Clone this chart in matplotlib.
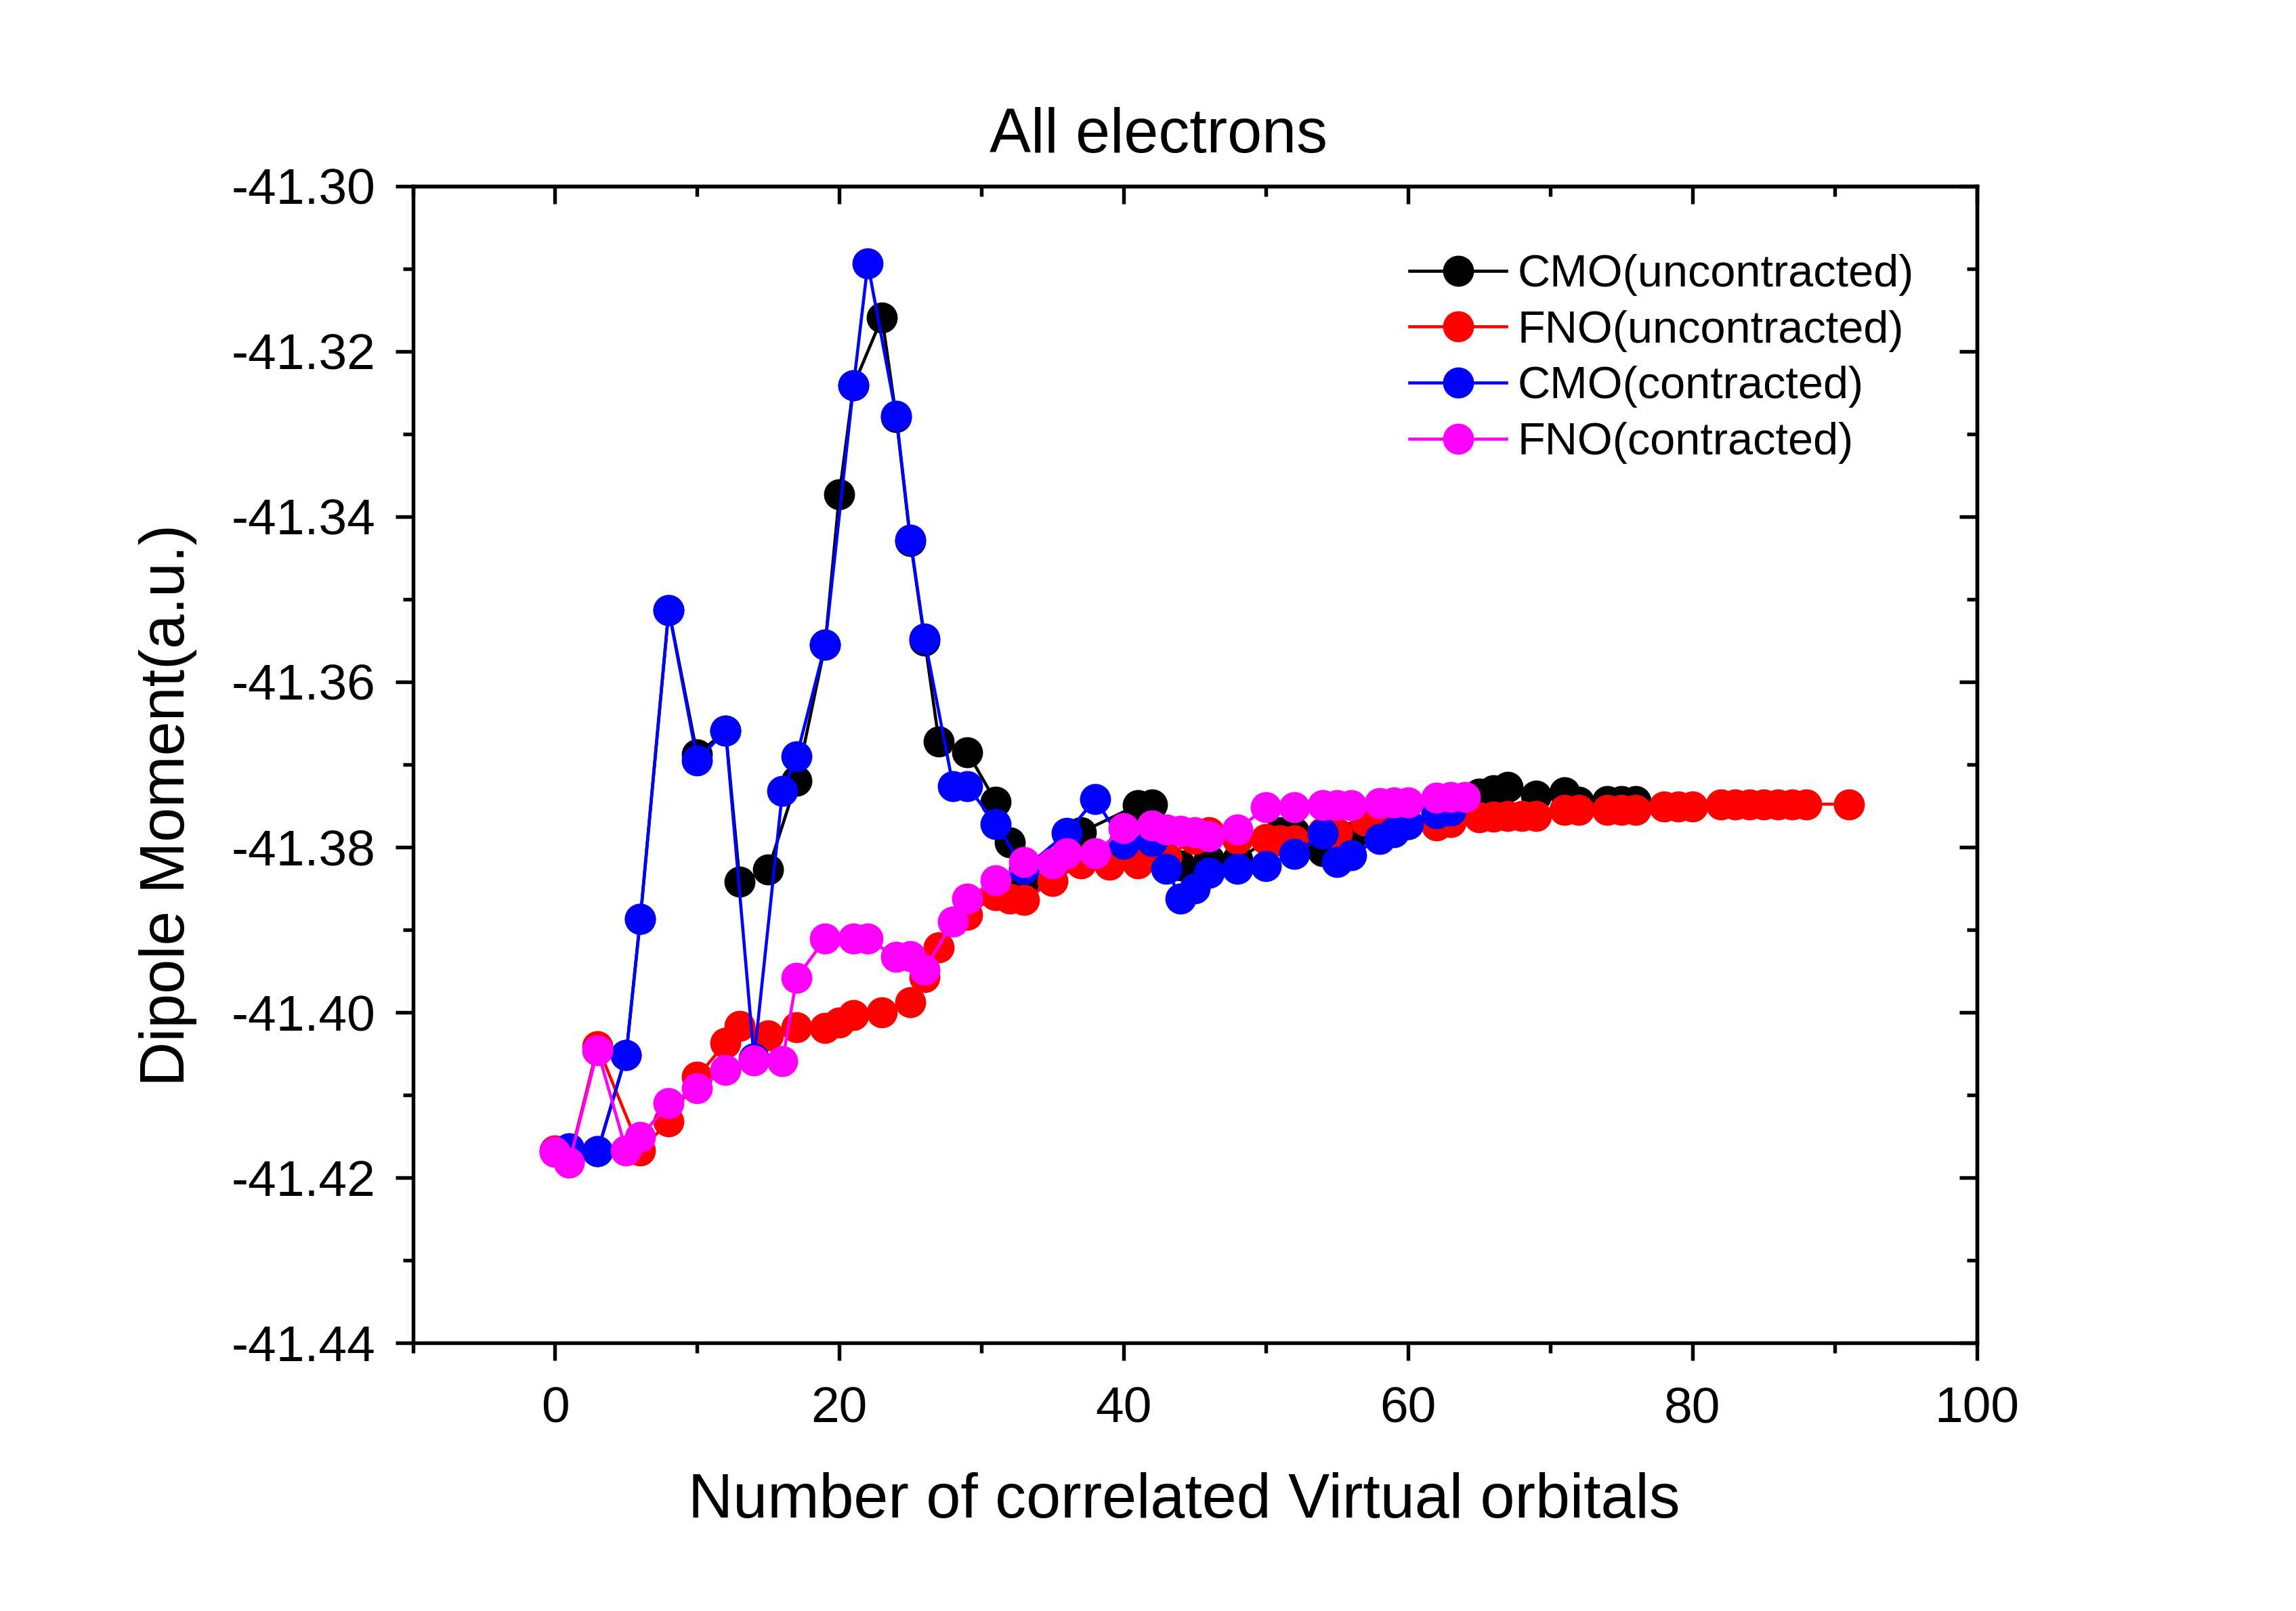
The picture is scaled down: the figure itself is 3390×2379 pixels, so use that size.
import matplotlib.pyplot as plt
from matplotlib.ticker import MultipleLocator, FormatStrFormatter

plt.rcParams['font.family'] = ['Liberation Sans', 'DejaVu Sans']

# CMO(uncontracted)
x_cmo_u = [1, 3, 5, 6, 8, 10, 12, 13, 15, 17, 19, 20, 21, 23, 24, 25, 26, 27, 29, 31,
           32, 33, 37, 41, 42, 44, 46, 48, 51, 52, 54, 56, 58, 60, 62, 63, 65, 66, 67,
           69, 71, 72, 74, 75, 76]
y_cmo_u = [-41.4165, -41.4168, -41.4052, -41.3887, -41.3513, -41.3688, -41.3659, -41.3842,
           -41.3827, -41.3720, -41.3555, -41.3373, -41.3241, -41.3159, -41.3280, -41.3430,
           -41.3550, -41.3672, -41.3685, -41.3745, -41.3794, -41.3842, -41.3782, -41.3749,
           -41.3748, -41.3822, -41.3815, -41.3815, -41.3782, -41.3782, -41.3805, -41.3788,
           -41.3780, -41.3772, -41.3760, -41.3755, -41.3735, -41.3731, -41.3727, -41.3738,
           -41.3734, -41.3745, -41.3744, -41.3744, -41.3744]

# FNO(uncontracted)
x_fno_u = [0, 1, 3, 6, 8, 10, 12, 13, 15, 17, 19, 20, 21, 23, 25, 26, 27, 29, 31, 32, 33,
           35, 37, 39, 41, 43, 45, 46, 48, 50, 51, 52, 54, 55, 57, 59, 62, 63, 65, 66, 67,
           68, 69, 71, 72, 74, 75, 76, 78, 79, 80, 82, 83, 84, 85, 86, 87, 88, 91]
y_fno_u = [-41.4167, -41.4180, -41.4041, -41.4167, -41.4132, -41.4078, -41.4037, -41.4016,
           -41.4028, -41.4018, -41.4019, -41.4012, -41.4003, -41.4000, -41.3988, -41.3957,
           -41.3921, -41.3882, -41.3858, -41.3862, -41.3864, -41.3841, -41.3820, -41.3821,
           -41.3820, -41.3812, -41.3790, -41.3782, -41.3790, -41.3790, -41.3792, -41.3792,
           -41.3782, -41.3783, -41.3768, -41.3770, -41.3774, -41.3770, -41.3764, -41.3763,
           -41.3762, -41.3762, -41.3762, -41.3755, -41.3755, -41.3755, -41.3755, -41.3755,
           -41.3751, -41.3751, -41.3751, -41.3748, -41.3748, -41.3748, -41.3748, -41.3748,
           -41.3748, -41.3748, -41.3748]

# CMO(contracted)
x_cmo_c = [1, 3, 5, 6, 8, 10, 12, 14, 16, 17, 19, 21, 22, 24, 25, 26, 28, 29, 31, 33, 36,
           38, 40, 42, 43, 44, 45, 46, 48, 50, 52, 54, 55, 56, 58, 59, 60, 62, 63]
y_cmo_c = [-41.4165, -41.4168, -41.4052, -41.3887, -41.3513, -41.3695, -41.3659, -41.4056,
           -41.3732, -41.3690, -41.3555, -41.3241, -41.3094, -41.3278, -41.3428, -41.3548,
           -41.3726, -41.3726, -41.3772, -41.3826, -41.3783, -41.3742, -41.3796, -41.3793,
           -41.3826, -41.3862, -41.3850, -41.3831, -41.3826, -41.3823, -41.3808, -41.3784,
           -41.3818, -41.3810, -41.3790, -41.3782, -41.3772, -41.3759, -41.3756]

# FNO(contracted)
x_fno_c = [0, 1, 3, 5, 6, 8, 10, 12, 14, 16, 17, 19, 21, 22, 24, 25, 26, 28, 29, 31, 33,
           35, 36, 38, 40, 42, 43, 44, 45, 46, 48, 50, 52, 54, 55, 56, 58, 59, 60, 62, 63, 64]
y_fno_c = [-41.4169, -41.4182, -41.4046, -41.4167, -41.4151, -41.4110, -41.4092, -41.4070,
           -41.4058, -41.4059, -41.3958, -41.3911, -41.3911, -41.3911, -41.3933, -41.3932,
           -41.3948, -41.3890, -41.3862, -41.3840, -41.3818, -41.3820, -41.3807, -41.3807,
           -41.3777, -41.3774, -41.3779, -41.3780, -41.3782, -41.3787, -41.3779, -41.3752,
           -41.3752, -41.3749, -41.3749, -41.3749, -41.3747, -41.3746, -41.3746, -41.3740,
           -41.3739, -41.3739]

series = [
    (x_cmo_u, y_cmo_u, 'black', 'CMO(uncontracted)'),
    (x_fno_u, y_fno_u, 'red', 'FNO(uncontracted)'),
    (x_cmo_c, y_cmo_c, 'blue', 'CMO(contracted)'),
    (x_fno_c, y_fno_c, 'magenta', 'FNO(contracted)'),
]

fig = plt.figure(figsize=(11.3, 7.93), dpi=300)
ax = fig.add_axes([0.1798, 0.1664, 0.6812, 0.7181])

for xs, ys, c, lab in series:
    ax.plot(xs, ys, color=c, marker='o', markersize=10, linewidth=1.1, label=lab)

ax.set_xlim(-10, 100)
ax.set_ylim(-41.44, -41.30)
ax.xaxis.set_major_locator(MultipleLocator(20))
ax.xaxis.set_minor_locator(MultipleLocator(10))
ax.yaxis.set_major_locator(MultipleLocator(0.02))
ax.yaxis.set_minor_locator(MultipleLocator(0.01))
ax.yaxis.set_major_formatter(FormatStrFormatter('%.2f'))

for s in ax.spines.values():
    s.set_linewidth(1.3)

ax.tick_params(which='both', direction='out', width=1.3, labelsize=18)
ax.tick_params(axis='x', pad=9)
ax.tick_params(axis='y', pad=7)
ax.tick_params(which='major', length=6.3)
ax.tick_params(which='minor', length=3.5)

# inward ticks on the top and right spines
ax_top = ax.secondary_xaxis('top')
ax_top.xaxis.set_major_locator(MultipleLocator(20))
ax_top.xaxis.set_minor_locator(MultipleLocator(10))
ax_top.tick_params(which='both', direction='in', width=1.3, labeltop=False)
ax_top.tick_params(which='major', length=6.3)
ax_top.tick_params(which='minor', length=3.5)
ax_right = ax.secondary_yaxis('right')
ax_right.yaxis.set_major_locator(MultipleLocator(0.02))
ax_right.yaxis.set_minor_locator(MultipleLocator(0.01))
ax_right.tick_params(which='both', direction='in', width=1.3, labelright=False)
ax_right.tick_params(which='major', length=6.3)
ax_right.tick_params(which='minor', length=3.5)
for sa in (ax_top, ax_right):
    for s in sa.spines.values():
        s.set_linewidth(1.3)

ax.set_title('All electrons', fontsize=22, pad=12, x=0.4766)
ax.set_xlabel('Number of correlated Virtual orbitals', fontsize=22, labelpad=14, x=0.493)
ax.set_ylabel('Dipole Moment(a.u.)', fontsize=22, labelpad=12, y=0.4646)

ax.legend(loc='upper right', bbox_to_anchor=(0.9715, 0.957), frameon=False,
          fontsize=16, handlelength=2.15, handletextpad=0.25, labelspacing=0.31,
          borderaxespad=0.0)

fig.savefig('out.png', dpi=300)
